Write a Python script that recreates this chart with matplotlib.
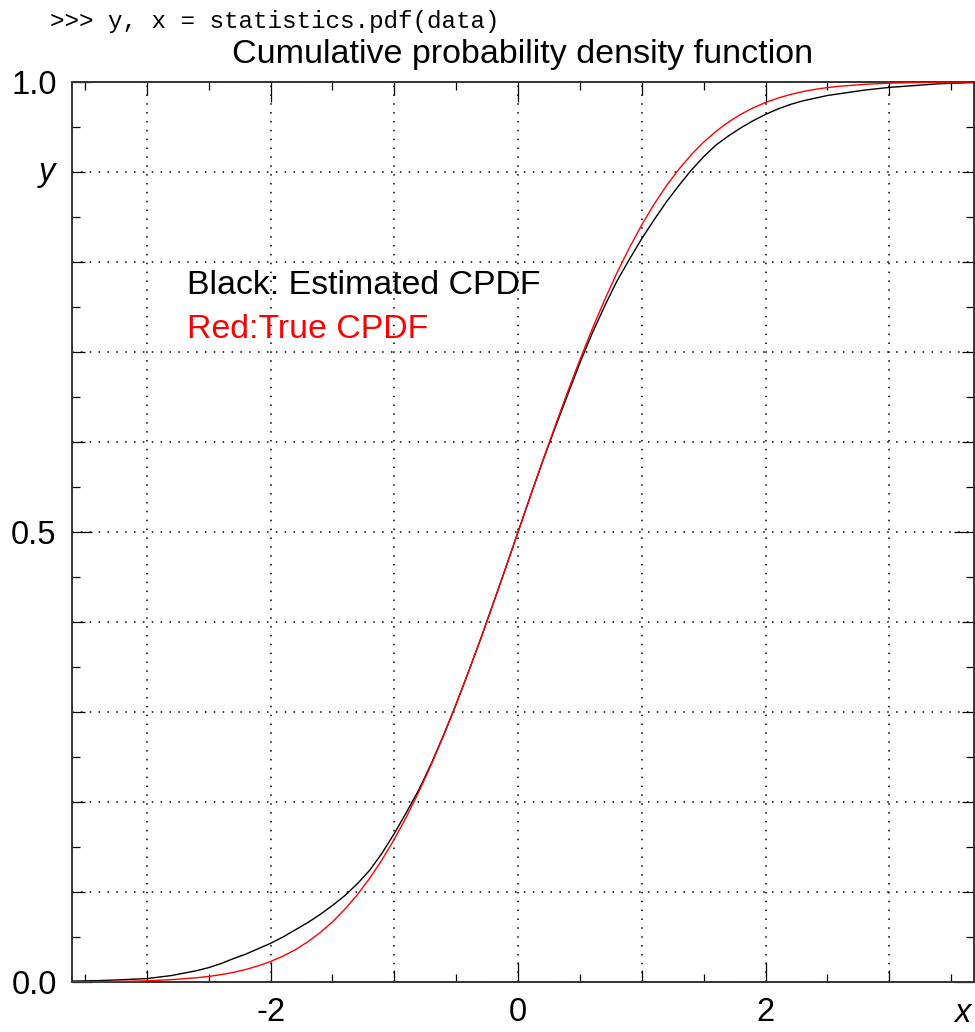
import matplotlib
matplotlib.use("Agg")
import matplotlib.pyplot as plt
import matplotlib.transforms as mtransforms

xs = [-3.605, -3.4, -3.2, -3.0, -2.8, -2.6, -2.5, -2.4, -2.3, -2.2, -2.1,
      -2.0, -1.9, -1.8, -1.7, -1.6, -1.5, -1.4, -1.3, -1.2, -1.1,
      -1.0, -0.9, -0.8, -0.7, -0.6, -0.5, -0.4, -0.3, -0.2, -0.1,
      0.0, 0.1, 0.2, 0.3, 0.4, 0.5, 0.6, 0.7, 0.8, 0.9,
      1.0, 1.1, 1.2, 1.3, 1.4, 1.5, 1.6, 1.7, 1.8, 1.9,
      2.0, 2.1, 2.2, 2.3, 2.4, 2.5, 2.6, 2.8, 3.0, 3.2, 3.4, 3.685]

# black: estimated CPDF
est_cpdf = [0.001, 0.0015, 0.0025, 0.0038, 0.0072, 0.0125, 0.016, 0.0205, 0.026, 0.031, 0.037,
            0.043, 0.050, 0.058, 0.066, 0.075, 0.085, 0.096, 0.109, 0.124, 0.143,
            0.165, 0.189, 0.214, 0.243, 0.275, 0.309, 0.345, 0.382, 0.421, 0.460,
            0.500, 0.540, 0.579, 0.616, 0.652, 0.688, 0.721, 0.751, 0.779, 0.803,
            0.826, 0.847, 0.867, 0.885, 0.902, 0.917, 0.930, 0.940, 0.949, 0.957,
            0.964, 0.970, 0.975, 0.979, 0.982, 0.985, 0.987, 0.991, 0.994, 0.996, 0.998, 0.9995]

# red: true CPDF
true_cpdf = [0.0002, 0.0003, 0.0007, 0.0013, 0.0026, 0.0047, 0.0062, 0.0082, 0.0107, 0.0139, 0.0179,
             0.0228, 0.0287, 0.0359, 0.0446, 0.0548, 0.0668, 0.0808, 0.0968, 0.1151, 0.1357,
             0.1587, 0.1841, 0.2119, 0.2420, 0.2743, 0.3085, 0.3446, 0.3821, 0.4207, 0.4602,
             0.5, 0.5398, 0.5793, 0.6179, 0.6554, 0.6915, 0.7257, 0.7580, 0.7881, 0.8159,
             0.8413, 0.8643, 0.8849, 0.9032, 0.9192, 0.9332, 0.9452, 0.9554, 0.9641, 0.9713,
             0.9772, 0.9821, 0.9861, 0.9893, 0.9918, 0.9938, 0.9953, 0.9974, 0.9987, 0.9993, 0.9997, 0.9999]

x_grid = [-3, -2, -1, 0, 1, 2, 3]
x_half = [-3.5, -2.5, -1.5, -0.5, 0.5, 1.5, 2.5, 3.5]
x_labels = {-2: "-2", 0: "0", 2: "2"}
y_grid = [0.0, 0.1, 0.2, 0.3, 0.4, 0.5, 0.6, 0.7, 0.8, 0.9, 1.0]
y_half = [0.05, 0.15, 0.25, 0.35, 0.45, 0.55, 0.65, 0.75, 0.85, 0.95]
y_labels = {0.0: "0.0", 0.5: "0.5", 1.0: "1.0"}

plt.rcParams['font.family'] = ['Liberation Sans', 'DejaVu Sans']

fig = plt.figure(figsize=(9.75, 10.32), dpi=100)
ax = fig.add_axes([72/975, 1-982/1032, 902/975, 900/1032])

ax.plot(xs, est_cpdf, color='black', lw=1.0, zorder=3)
ax.plot(xs, true_cpdf, color='#ff0000', lw=1.0, zorder=3)

ax.set_xlim(-3.605, 3.685)
ax.set_ylim(0, 1)

ax.set_xticks(x_grid)
ax.set_xticklabels([x_labels.get(v, "") for v in x_grid])
ax.set_xticks(x_half, minor=True)
ax.set_yticks(y_grid)
ax.set_yticklabels([y_labels.get(round(v, 2), "") for v in y_grid])
ax.set_yticks(y_half, minor=True)

ax.tick_params(which='major', direction='in', length=9, width=0.9,
               top=True, right=True, labelsize=23.5, pad=11)
ax.tick_params(which='minor', direction='in', length=6, width=0.9,
               top=True, right=True)

# labelled ticks are drawn longer
for t, v in zip(ax.xaxis.get_major_ticks(), x_grid):
    if v in x_labels:
        for ln in (t.tick1line, t.tick2line):
            ln.set_markersize(14.5)
for t, v in zip(ax.yaxis.get_major_ticks(), y_grid):
    if round(v, 2) in y_labels:
        for ln in (t.tick1line, t.tick2line):
            ln.set_markersize(14.5)

ax.grid(True, which='major', color='black', lw=1.1, linestyle=(0, (1, 4.8)))
for s in ax.spines.values():
    s.set_linewidth(1.4)
    s.set_color('#333333')

# axis names sit where tick labels would be
trans_y = mtransforms.blended_transform_factory(ax.transAxes, ax.transData)
ax.text(-0.019, 0.9, "y", transform=trans_y, ha='right', va='center',
        fontsize=23.5, style='italic')
ax.text(0.987, -0.018, "x", transform=ax.transAxes, ha='center', va='top',
        fontsize=23.5, style='italic')

ax.text(-2.677, 0.764, "Black: Estimated CPDF", color='black', fontsize=24.4,
        va='baseline', ha='left')
ax.text(-2.677, 0.716, "Red:True CPDF", color='#ff0000', fontsize=24.4,
        va='baseline', ha='left')

ax.set_title("Cumulative probability density function", fontsize=24.5, pad=14)
fig.text(50/975, 1-28/1032, ">>> y, x = statistics.pdf(data)",
         family='Liberation Mono', fontsize=17.5, va='baseline', ha='left')

fig.savefig("out.png", dpi=100)
